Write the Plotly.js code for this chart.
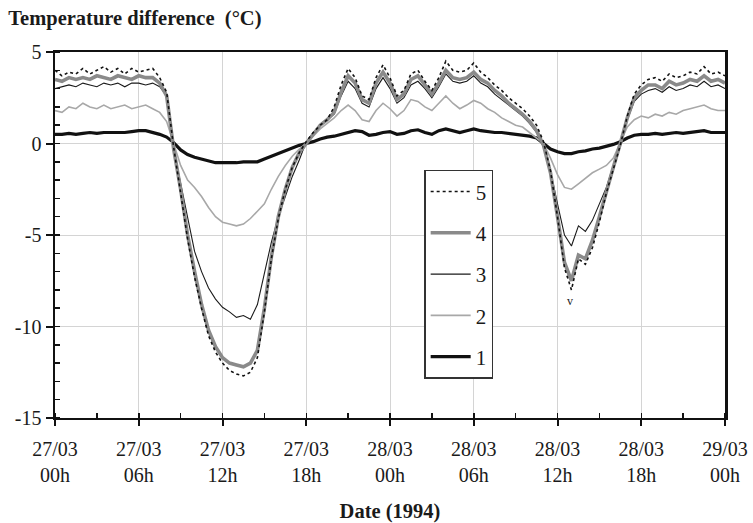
<!DOCTYPE html>
<html>
<head>
<meta charset="utf-8">
<script src="https://cdn.plot.ly/plotly-3.0.1.min.js"></script>
<style>html,body{margin:0;padding:0;background:#fff;}#chart{width:753px;height:523px;}</style>
</head>
<body>
<div id="chart"></div>
<script>
// Time axis: hours since 27/03/1994 00h, every half hour
const hours = Array.from({length: 97}, (_, i) => i / 2);

const tickHours = [0, 6, 12, 18, 24, 30, 36, 42, 48];
const tickLabels = ['27/03<br>00h', '27/03<br>06h', '27/03<br>12h', '27/03<br>18h',
  '28/03<br>00h', '28/03<br>06h', '28/03<br>12h', '28/03<br>18h', '29/03<br>00h'];
const yTicks = [5, 0, -5, -10, -15];
const yTickLabels = ['5', '0', '-5', '-10', '-15'];

const seriesNames = ['1', '2', '3', '4', '5'];

const s1 = [0.5,0.5,0.55,0.5,0.55,0.6,0.55,0.6,0.6,0.6,0.6,0.65,0.7,0.7,0.6,0.5,0.35,0.05,-0.35,-0.6,
  -0.75,-0.85,-0.95,-1.05,-1.05,-1.05,-1.05,-1.0,-1.0,-1.0,-0.85,-0.7,-0.55,-0.4,-0.25,-0.1,0.0,0.1,0.25,0.35,
  0.4,0.5,0.6,0.7,0.65,0.45,0.5,0.6,0.65,0.5,0.55,0.7,0.75,0.6,0.5,0.7,0.8,0.7,0.6,0.7,
  0.8,0.7,0.65,0.6,0.6,0.55,0.5,0.45,0.4,0.3,0.0,-0.3,-0.45,-0.55,-0.55,-0.45,-0.4,-0.3,-0.25,-0.15,
  -0.05,0.1,0.3,0.45,0.5,0.5,0.55,0.5,0.55,0.6,0.55,0.6,0.65,0.7,0.6,0.6,0.6];

const s2 = [1.8,1.7,2.0,1.9,2.2,2.0,1.9,2.1,1.9,2.0,2.1,1.9,2.0,2.1,1.9,1.7,1.2,0.0,-1.2,-2.0,
  -2.4,-2.9,-3.5,-4.0,-4.3,-4.4,-4.5,-4.4,-4.1,-3.7,-3.3,-2.5,-1.8,-1.2,-0.7,-0.3,0.0,0.4,0.8,1.1,
  1.4,1.8,2.1,1.8,1.3,1.2,1.8,2.2,1.9,1.5,1.8,2.4,2.3,2.0,1.8,2.2,2.6,2.2,1.9,2.1,
  2.35,2.2,1.9,1.7,1.4,1.2,1.0,0.9,0.6,0.3,0.0,-0.8,-1.7,-2.4,-2.5,-2.2,-1.9,-1.6,-1.4,-1.2,
  -0.8,0.1,0.9,1.3,1.5,1.4,1.6,1.5,1.7,1.6,1.8,1.9,2.0,2.1,1.9,1.8,1.8];

const s3 = [3.0,3.1,3.2,3.1,3.3,3.2,3.1,3.3,3.2,3.3,3.1,3.3,3.3,3.2,3.3,3.1,2.6,-0.3,-2.2,-4.2,
  -5.9,-7.0,-7.9,-8.5,-8.95,-9.2,-9.5,-9.4,-9.6,-8.8,-7.0,-5.4,-4.0,-2.9,-1.8,-0.9,0.1,0.6,1.0,1.3,
  1.6,2.6,3.4,3.0,2.2,2.0,3.0,3.6,3.0,2.2,2.5,3.2,3.4,3.0,2.5,3.1,3.8,3.4,3.3,3.4,
  3.7,3.3,3.1,2.7,2.4,2.1,1.8,1.5,1.1,0.6,-0.2,-1.5,-3.3,-5.0,-5.6,-4.5,-4.8,-4.2,-3.3,-2.4,
  -1.2,0.1,1.3,2.3,2.7,2.9,3.0,2.8,3.1,2.9,3.0,3.2,3.1,3.4,3.1,3.2,3.0];

const s4 = [3.5,3.4,3.6,3.5,3.6,3.5,3.7,3.6,3.5,3.7,3.6,3.5,3.7,3.6,3.6,3.3,2.6,-0.3,-2.5,-5.0,
  -7.0,-8.8,-10.2,-11.1,-11.7,-12.0,-12.1,-12.2,-12.0,-11.3,-9.0,-6.2,-4.0,-2.5,-1.3,-0.5,0.0,0.5,1.0,1.3,
  1.7,2.8,3.7,3.3,2.4,2.2,3.3,3.9,3.3,2.4,2.7,3.5,3.7,3.2,2.7,3.3,4.0,3.6,3.5,3.6,
  3.9,3.5,3.3,2.9,2.6,2.2,1.9,1.6,1.2,0.7,-0.1,-1.6,-4.0,-6.5,-7.5,-6.1,-6.3,-5.3,-4.0,-2.6,
  -1.3,0.0,1.4,2.5,2.9,3.2,3.2,3.0,3.4,3.2,3.3,3.5,3.4,3.7,3.4,3.5,3.3];

const s5 = [4.0,3.7,3.9,3.8,4.1,3.8,4.0,4.2,3.9,4.1,3.8,4.1,3.9,4.0,4.1,3.6,2.8,-0.2,-2.7,-5.2,
  -7.3,-9.0,-10.5,-11.4,-12.0,-12.4,-12.6,-12.7,-12.5,-11.7,-9.2,-6.3,-4.1,-2.5,-1.3,-0.5,0.1,0.6,1.0,1.3,
  2.0,3.2,4.1,3.6,2.6,2.4,3.6,4.3,3.6,2.6,2.9,3.8,4.0,3.4,2.9,3.6,4.5,4.0,3.9,4.0,
  4.4,3.9,3.6,3.2,2.9,2.5,2.2,1.9,1.5,1.0,0.1,-1.5,-4.0,-6.8,-8.0,-6.3,-6.6,-5.7,-4.3,-2.7,
  -1.4,-0.1,1.5,2.7,3.2,3.5,3.6,3.4,3.8,3.6,3.7,3.9,3.8,4.2,3.8,3.9,3.7];

const values = [s1, s2, s3, s4, s5];
const lineStyles = [
  {color: '#111111', width: 3.2},
  {color: '#a8a8a8', width: 1.6},
  {color: '#1a1a1a', width: 1.1},
  {color: '#8a8a8a', width: 3.6},
  {color: '#111111', width: 1.6, dash: 'dot'}
];

const serif = 'Liberation Serif, Times New Roman, serif';

const traces = values.map((v, i) => ({
  x: hours, y: v, type: 'scatter', mode: 'lines',
  name: seriesNames[i], legendgroup: 'g' + i, legendrank: 10 - i,
  line: lineStyles[i]
}));

const layout = {
  width: 753, height: 523,
  margin: {l: 55, r: 28, t: 52, b: 105},
  paper_bgcolor: '#ffffff', plot_bgcolor: '#ffffff',
  font: {family: serif, size: 20, color: '#1a1a1a'},
  title: {
    text: '<b>Temperature difference  (°C)</b>',
    font: {family: serif, size: 20.5, color: '#1a1a1a'},
    x: 0.011, xanchor: 'left', y: 0.966, yanchor: 'middle'
  },
  xaxis: {
    range: [0, 48], tickvals: tickHours, ticktext: tickLabels,
    showgrid: true, gridcolor: '#d4d4d4', gridwidth: 1,
    zeroline: false, showline: true, linecolor: '#111', linewidth: 2, mirror: true,
    ticks: 'outside', ticklen: 6, tickwidth: 2, tickcolor: '#111',
    ticklabelstandoff: 6,
    minor: {dtick: 3, tick0: 0, ticks: 'inside', ticklen: 5, tickwidth: 1.5, tickcolor: '#111', showgrid: false},
    tickfont: {family: serif, size: 20, color: '#1a1a1a'},
    title: {text: '<b>Date (1994)</b>', font: {family: serif, size: 20.5, color: '#1a1a1a'}, standoff: 22}
  },
  yaxis: {
    range: [-15, 5], tickvals: yTicks, ticktext: yTickLabels,
    showgrid: true, gridcolor: '#d4d4d4', gridwidth: 1,
    zeroline: false, showline: true, linecolor: '#111', linewidth: 2.5, mirror: true,
    ticks: 'outside', ticklen: 7, tickwidth: 2, tickcolor: '#111',
    minor: {dtick: 1, tick0: 0, ticks: 'inside', ticklen: 5, tickwidth: 1.5, tickcolor: '#111', showgrid: false},
    tickfont: {family: serif, size: 20, color: '#1a1a1a'}
  },
  annotations: [{
    x: 36.9, y: -8.6, xref: 'x', yref: 'y', text: 'v', showarrow: false,
    font: {family: serif, size: 12, color: '#222'}
  }],
  showlegend: true,
  legend: {
    x: 0.551, y: 0.678, xanchor: 'left', yanchor: 'top',
    traceorder: 'grouped', tracegroupgap: 11, itemwidth: 40,
    bgcolor: '#ffffff', bordercolor: '#333333', borderwidth: 1.5,
    font: {family: serif, size: 21, color: '#1a1a1a'}
  }
};

Plotly.newPlot('chart', traces, layout, {displayModeBar: false, staticPlot: true});
</script>
</body>
</html>
